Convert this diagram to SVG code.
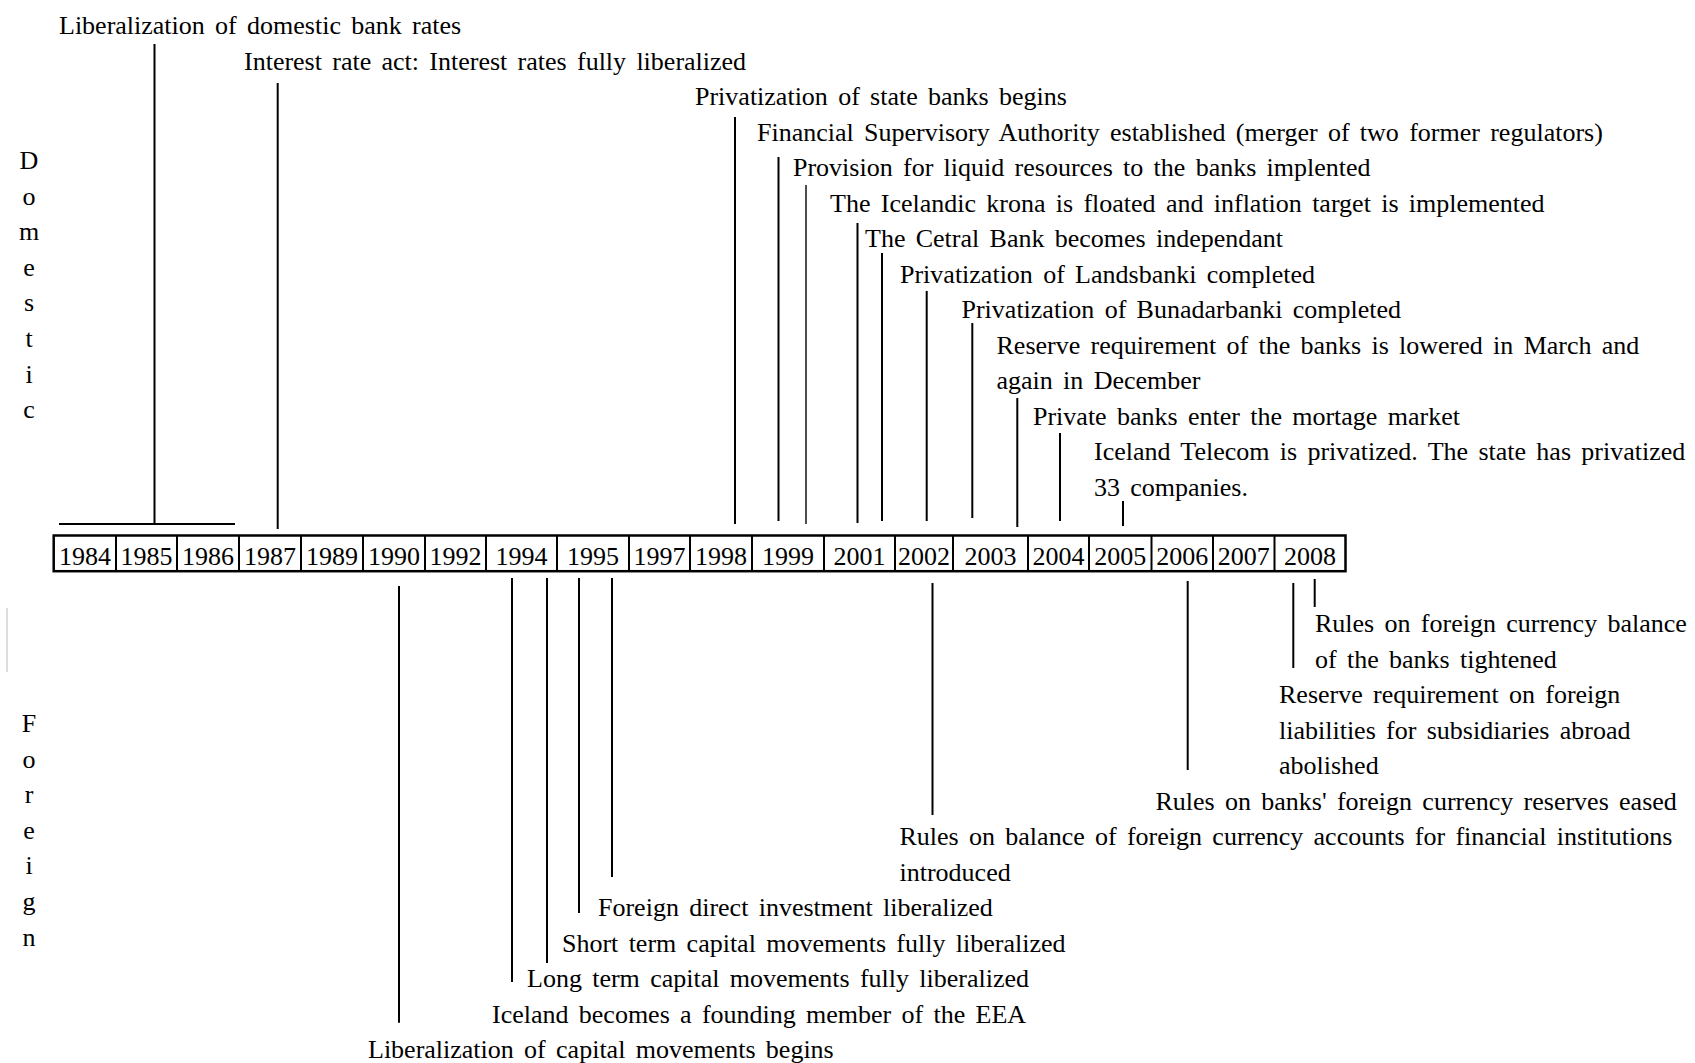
<svg xmlns="http://www.w3.org/2000/svg" width="1695" height="1063" viewBox="0 0 1695 1063">
<style>
text{font-family:"Liberation Serif","Times New Roman",serif;font-size:26px;fill:#000}
.ev text{word-spacing:3.8px}
.yr{text-anchor:middle}
.side{text-anchor:middle}
.ln{stroke:#000;stroke-width:2;fill:none}
.thin{stroke:#000;stroke-width:1.4;fill:none}
.box{stroke:#000;stroke-width:2.5;fill:#fff}
.div{stroke:#000;stroke-width:2}
</style>
<rect width="1695" height="1063" fill="#fff"/>
<g id="side-labels">
<text class="side" x="29" y="169">D</text>
<text class="side" x="29" y="204.6">o</text>
<text class="side" x="29" y="240.2">m</text>
<text class="side" x="29" y="275.8">e</text>
<text class="side" x="29" y="311.4">s</text>
<text class="side" x="29" y="347">t</text>
<text class="side" x="29" y="382.6">i</text>
<text class="side" x="29" y="418.2">c</text>
<text class="side" x="29" y="732">F</text>
<text class="side" x="29" y="767.6">o</text>
<text class="side" x="29" y="803.2">r</text>
<text class="side" x="29" y="838.8">e</text>
<text class="side" x="29" y="874.4">i</text>
<text class="side" x="29" y="910">g</text>
<text class="side" x="29" y="945.6">n</text>
</g>
<line x1="7" y1="608" x2="7" y2="672" stroke="#ddd" stroke-width="2"/>
<g id="timeline">
<rect class="box" x="53.7" y="535.5" width="1291.8" height="35.7"/>
<g class="div">
<line x1="116" y1="535.5" x2="116" y2="571.2"/>
<line x1="177" y1="535.5" x2="177" y2="571.2"/>
<line x1="239" y1="535.5" x2="239" y2="571.2"/>
<line x1="301" y1="535.5" x2="301" y2="571.2"/>
<line x1="363" y1="535.5" x2="363" y2="571.2"/>
<line x1="425" y1="535.5" x2="425" y2="571.2"/>
<line x1="486" y1="535.5" x2="486" y2="571.2"/>
<line x1="557" y1="535.5" x2="557" y2="571.2"/>
<line x1="629" y1="535.5" x2="629" y2="571.2"/>
<line x1="690" y1="535.5" x2="690" y2="571.2"/>
<line x1="752" y1="535.5" x2="752" y2="571.2"/>
<line x1="824" y1="535.5" x2="824" y2="571.2"/>
<line x1="895" y1="535.5" x2="895" y2="571.2"/>
<line x1="953" y1="535.5" x2="953" y2="571.2"/>
<line x1="1028" y1="535.5" x2="1028" y2="571.2"/>
<line x1="1089" y1="535.5" x2="1089" y2="571.2"/>
<line x1="1151.5" y1="535.5" x2="1151.5" y2="571.2"/>
<line x1="1213" y1="535.5" x2="1213" y2="571.2"/>
<line x1="1274.5" y1="535.5" x2="1274.5" y2="571.2"/>
</g>
<text class="yr" x="85" y="565">1984</text>
<text class="yr" x="146.5" y="565">1985</text>
<text class="yr" x="208" y="565">1986</text>
<text class="yr" x="270" y="565">1987</text>
<text class="yr" x="332" y="565">1989</text>
<text class="yr" x="394" y="565">1990</text>
<text class="yr" x="455.5" y="565">1992</text>
<text class="yr" x="521.5" y="565">1994</text>
<text class="yr" x="593" y="565">1995</text>
<text class="yr" x="659.5" y="565">1997</text>
<text class="yr" x="721" y="565">1998</text>
<text class="yr" x="788" y="565">1999</text>
<text class="yr" x="859.5" y="565">2001</text>
<text class="yr" x="924" y="565">2002</text>
<text class="yr" x="990.5" y="565">2003</text>
<text class="yr" x="1058.5" y="565">2004</text>
<text class="yr" x="1120.2" y="565">2005</text>
<text class="yr" x="1182.2" y="565">2006</text>
<text class="yr" x="1243.7" y="565">2007</text>
<text class="yr" x="1310" y="565">2008</text>
</g>
<g id="connectors">
<line class="ln" x1="59" y1="524" x2="235" y2="524"/>
<line class="ln" x1="154.5" y1="44" x2="154.5" y2="524"/>
<line class="ln" x1="277.7" y1="83" x2="277.7" y2="529"/>
<line class="ln" x1="735" y1="117" x2="735" y2="524"/>
<line class="ln" x1="778.5" y1="157" x2="778.5" y2="521"/>
<line class="thin" x1="806" y1="185" x2="806" y2="524"/>
<line class="ln" x1="857.5" y1="223" x2="857.5" y2="523"/>
<line class="ln" x1="882" y1="253" x2="882" y2="521"/>
<line class="ln" x1="926.7" y1="291" x2="926.7" y2="521"/>
<line class="ln" x1="972.3" y1="323" x2="972.3" y2="518"/>
<line class="ln" x1="1017.3" y1="398" x2="1017.3" y2="527"/>
<line class="ln" x1="1060" y1="433" x2="1060" y2="521"/>
<line class="ln" x1="1123" y1="501" x2="1123" y2="526"/>
<line class="ln" x1="399" y1="586" x2="399" y2="1022.7"/>
<line class="ln" x1="512" y1="578" x2="512" y2="982"/>
<line class="ln" x1="547" y1="578" x2="547" y2="963"/>
<line class="ln" x1="579" y1="578" x2="579" y2="913"/>
<line class="ln" x1="612" y1="578" x2="612" y2="877"/>
<line class="ln" x1="932.5" y1="583" x2="932.5" y2="815"/>
<line class="ln" x1="1187.7" y1="581" x2="1187.7" y2="770"/>
<line class="ln" x1="1293.3" y1="583" x2="1293.3" y2="668"/>
<line class="ln" x1="1314.7" y1="579" x2="1314.7" y2="607"/>
</g>
<g id="domestic-events" class="ev">
<text x="59" y="34">Liberalization of domestic bank rates</text>
<text x="244" y="69.5">Interest rate act: Interest rates fully liberalized</text>
<text x="695" y="105">Privatization of state banks begins</text>
<text x="757" y="140.5">Financial Supervisory Authority established (merger of two former regulators)</text>
<text x="793" y="176">Provision for liquid resources to the banks implented</text>
<text x="830" y="211.5">The Icelandic krona is floated and inflation target is implemented</text>
<text x="865" y="247">The Cetral Bank becomes independant</text>
<text x="900" y="282.5">Privatization of Landsbanki completed</text>
<text x="961.5" y="318">Privatization of Bunadarbanki completed</text>
<text x="996.5" y="353.5">Reserve requirement of the banks is lowered in March and</text>
<text x="996.5" y="389">again in December</text>
<text x="1033" y="424.5">Private banks enter the mortage market</text>
<text x="1094" y="460">Iceland Telecom is privatized. The state has privatized</text>
<text x="1094" y="495.5">33 companies.</text>
</g>
<g id="foreign-events" class="ev">
<text x="1315" y="632">Rules on foreign currency balance</text>
<text x="1315" y="667.5">of the banks tightened</text>
<text x="1279" y="703">Reserve requirement on foreign</text>
<text x="1279" y="738.5">liabilities for subsidiaries abroad</text>
<text x="1279" y="774">abolished</text>
<text x="1155.5" y="809.5">Rules on banks' foreign currency reserves eased</text>
<text x="899.5" y="845">Rules on balance of foreign currency accounts for financial institutions</text>
<text x="899.5" y="880.5">introduced</text>
<text x="598" y="916">Foreign direct investment liberalized</text>
<text x="562" y="951.5">Short term capital movements fully liberalized</text>
<text x="527" y="987">Long term capital movements fully liberalized</text>
<text x="492" y="1022.5">Iceland becomes a founding member of the EEA</text>
<text x="368" y="1058">Liberalization of capital movements begins</text>
</g>
</svg>
